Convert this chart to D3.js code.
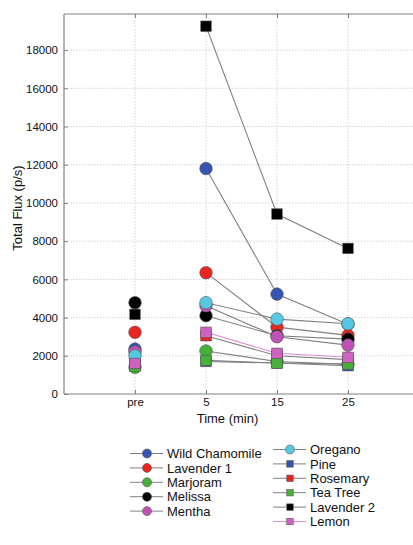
<!DOCTYPE html>
<html><head><meta charset="utf-8">
<script src="https://cdn.jsdelivr.net/npm/d3@7"></script>
<style>body{margin:0;background:#fff;} svg{display:block;font-family:Arial,"Liberation Sans",sans-serif;}</style>
</head><body>
<svg id="c" width="413" height="545"></svg>
<script>
const timeLabels = ["pre", "5", "15", "25"];
const seriesNames = ["Wild Chamomile","Lavender 1","Marjoram","Melissa","Mentha","Oregano","Pine","Rosemary","Tea Tree","Lavender 2","Lemon"];
const wildChamomile = [2350, 11800, 5230, 3650];
const lavender1 = [3230, 6350, 3500, 3070];
const marjoram = [1400, 2250, 1700, 1550];
const melissa = [4780, 4100, 3050, 2870];
const mentha = [2200, 4620, 3000, 2560];
const oregano = [2000, 4780, 3920, 3680];
const pine = [1500, 1700, 1620, 1480];
const rosemary = [1550, 3050, 2000, 1800];
const teaTree = [1450, 1760, 1620, 1570];
const lavender2 = [4170, 19250, 9420, 7620];
const lemon = [1600, 3230, 2130, 1920];
const yTicks = [0,2000,4000,6000,8000,10000,12000,14000,16000,18000];

const values = [wildChamomile,lavender1,marjoram,melissa,mentha,oregano,pine,rosemary,teaTree,lavender2,lemon];
const colors = ["#3553b0","#e8251f","#46b03a","#000000","#c052b4","#55c8e2","#3553b0","#e8251f","#46b03a","#000000","#d062c2"];
const shapes = ["c","c","c","c","c","c","s","s","s","s","s"];
const lineColors = seriesNames.map(n => n === "Lemon" ? "#e08ad8" : "#808080");

const svg = d3.select("#c");
const L = 64, R = 419, T = 14, B = 394;
const x = d3.scaleLinear().domain([0,5]).range([L,R]);
const y = d3.scaleLinear().domain([0,19890]).range([B,T]);
const xi = i => x(i+1);

// grid
const g = svg.append("g");
yTicks.forEach(t => { if (t>0) g.append("line").attr("x1",L).attr("x2",R).attr("y1",y(t)).attr("y2",y(t)).attr("stroke","#c8c8c8").attr("stroke-width",0.8).attr("stroke-dasharray","1.5,1.5"); });
timeLabels.forEach((t,i) => g.append("line").attr("x1",xi(i)).attr("x2",xi(i)).attr("y1",T).attr("y2",B).attr("stroke","#c8c8c8").attr("stroke-width",0.8).attr("stroke-dasharray","1.5,1.5"));

// axes frame
svg.append("line").attr("x1",L).attr("x2",R).attr("y1",T).attr("y2",T).attr("stroke","#808080").attr("stroke-width",1.2);
svg.append("line").attr("x1",L).attr("x2",R).attr("y1",B).attr("y2",B).attr("stroke","#808080").attr("stroke-width",1.2);
svg.append("line").attr("x1",L).attr("x2",L).attr("y1",T).attr("y2",B).attr("stroke","#808080").attr("stroke-width",1.2);

const yAxis = d3.axisLeft(y).tickValues(yTicks).tickSize(-4).tickPadding(6).tickFormat(d3.format("d"));
const ya = svg.append("g").attr("transform",`translate(${L},0)`).call(yAxis);
ya.select(".domain").remove();
ya.selectAll("line").attr("stroke","#808080");
ya.selectAll("text").attr("font-size",11.5).attr("fill","#111");

const xAxis = d3.axisBottom(x).tickValues([1,2,3,4]).tickSize(-4).tickPadding(4).tickFormat((d)=>timeLabels[d-1]);
const xa = svg.append("g").attr("transform",`translate(0,${B})`).call(xAxis);
xa.select(".domain").remove();
xa.selectAll("line").attr("stroke","#808080");
xa.selectAll("text").attr("font-size",11.5).attr("fill","#111");
// top ticks
const xt = svg.append("g").attr("transform",`translate(0,${T})`).call(d3.axisTop(x).tickValues([1,2,3,4]).tickSize(-4).tickFormat(""));
xt.select(".domain").remove(); xt.selectAll("line").attr("stroke","#808080");

svg.append("text").attr("x",(L+R)/2-14).attr("y",423).attr("text-anchor","middle").attr("font-size",13).attr("fill","#111").text("Time (min)");
svg.append("text").attr("transform",`translate(22,${(T+B)/2+4}) rotate(-90)`).attr("text-anchor","middle").attr("font-size",13).attr("fill","#111").text("Total Flux (p/s)");

// lines (5,15,25)
const line = d3.line().x(d=>xi(d.i)).y(d=>y(d.v));
values.forEach((vals,k) => {
  const pts = vals.map((v,i)=>({i,v})).slice(1);
  svg.append("path").attr("d",line(pts)).attr("fill","none").attr("stroke",lineColors[k]).attr("stroke-width",1.1);
});
// markers
function marker(sel, shape, cx, cy, col, r) {
  if (shape==="c") sel.append("circle").attr("cx",cx).attr("cy",cy).attr("r",r||6.3).attr("fill",col).attr("stroke","#555").attr("stroke-width",0.6);
  else { const s = r?r*1.7:10.5; sel.append("rect").attr("x",cx-s/2).attr("y",cy-s/2).attr("width",s).attr("height",s).attr("fill",col).attr("stroke","#555").attr("stroke-width",0.6); }
}
values.forEach((vals,k) => vals.forEach((v,i) => marker(svg, shapes[k], xi(i), y(v), colors[k])));

// legend
const leg = svg.append("g");
seriesNames.forEach((n,k) => {
  const col = k<5 ? 0 : 1;
  const row = k<5 ? k : k-5;
  const lx = col===0 ? 130 : 273;
  const ly = (col===0 ? 453.5 : 449.5) + row*14.4;
  leg.append("line").attr("x1",lx).attr("x2",lx+33).attr("y1",ly).attr("y2",ly).attr("stroke",lineColors[k]).attr("stroke-width",1);
  marker(leg, shapes[k], lx+17, ly, colors[k], shapes[k]==="c"?4.5:3.8);
  leg.append("text").attr("x",lx+37).attr("y",ly+4.7).attr("font-size",13).attr("fill","#111").text(n);
});
</script>
</body></html>
